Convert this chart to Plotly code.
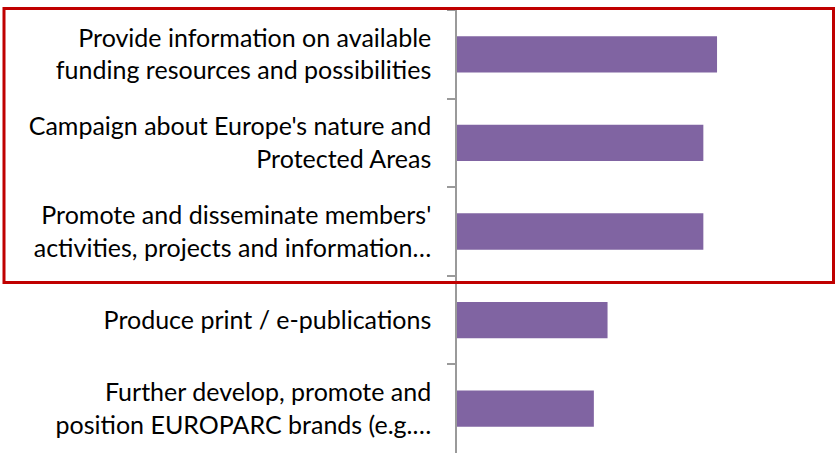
import plotly.graph_objects as go

categories = [
    "Provide information on available<br>funding resources and possibilities",
    "Campaign about Europe's nature and<br>Protected Areas",
    "Promote and disseminate members'<br>activities, projects and information…",
    "Produce print / e-publications",
    "Further develop, promote and<br>position EUROPARC brands (e.g.…",
]
values = [19, 18, 18, 11, 10]

W, H = 836, 454
left, right, top, bottom = 457, 4, 10, 1
pw = W - left - right
ph = H - top - bottom

fig = go.Figure()
fig.add_trace(go.Bar(
    x=values,
    y=categories,
    orientation="h",
    marker=dict(color="#8064A2", line=dict(width=0)),
    width=0.41,
    hoverinfo="x+y",
))

# red highlight box around the top three items
fig.add_shape(
    type="rect", xref="paper", yref="paper",
    x0=(4 - left) / pw, x1=(833.5 - left) / pw,
    y0=1 - (282.5 - top) / ph, y1=1 - (8.5 - top) / ph,
    line=dict(color="#C00000", width=3),
)

fig.update_layout(
    width=W, height=H,
    margin=dict(l=left, r=right, t=top, b=bottom),
    paper_bgcolor="white",
    plot_bgcolor="white",
    showlegend=False,
    font=dict(family="Lato, 'Open Sans', sans-serif", size=25, color="#000000"),
    xaxis=dict(visible=False, range=[0, 27.4], fixedrange=True),
    yaxis=dict(
        type="category",
        autorange="reversed",
        showline=True, linecolor="#9a9a9a", linewidth=1.5,
        ticks="outside", ticklen=8, tickcolor="#9a9a9a", tickwidth=1.5,
        tickson="boundaries",
        ticklabelstandoff=19,
        showgrid=False,
    ),
)

fig.write_html(
    "out.html",
    config={"displayModeBar": False},
    post_script="document.body.style.margin='0';",
)
